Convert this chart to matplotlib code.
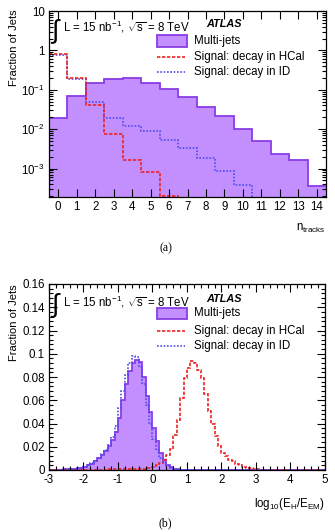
#!/usr/bin/env python3
"""Two-panel ATLAS-style plot: n_tracks (log y) and log10(E_H/E_EM) distributions."""
import numpy as np
import matplotlib
matplotlib.use("Agg")
import matplotlib.pyplot as plt  # noqa: E402
from matplotlib.patches import Rectangle  # noqa: E402
from matplotlib.ticker import AutoMinorLocator, FixedLocator, FixedFormatter, LogLocator, NullFormatter  # noqa: E402

plt.rcParams["font.family"] = ["Liberation Sans", "DejaVu Sans"]
plt.rcParams["mathtext.fontset"] = "custom"
plt.rcParams["mathtext.rm"] = "Liberation Sans"
plt.rcParams["mathtext.it"] = "Liberation Sans:italic"

FILL = "#c38fff"
EDGE = "#8a3de6"
RED = "#ee2222"
BLUE = "#4d4df0"

# ---- panel (a): number of tracks, one bin per integer 0..14
ntracks = [0, 1, 2, 3, 4, 5, 6, 7, 8, 9, 10, 11, 12, 13, 14]
multijets_tracks = [0.019, 0.069, 0.15, 0.183, 0.197, 0.15, 0.105, 0.066,
                    0.036, 0.021, 0.0101, 0.0049, 0.0024, 0.00168, 0.00037]
hcal_tracks = [0.82, 0.194, 0.041, 0.0076, 0.0017, 0.00081, 0.0002, 0,
               0, 0, 0, 0, 0, 0, 0]
id_tracks = [0.78, 0.19, 0.049, 0.019, 0.0119, 0.0089, 0.0054, 0.0033,
             0.0019, 0.00085, 0.00039, 0, 0, 0, 0]
ytick_vals_a = [1e-3, 1e-2, 1e-1, 1, 10]
ytick_labels_a = ["10$^{-3}$", "10$^{-2}$", "10$^{-1}$", "1", "10"]

# ---- panel (b): log10(E_H/E_EM), 80 bins of 0.1 from -3 to 5
ratio_range = (-3.0, 5.0)
multijets_ratio = [
    0.0003, 0.0003, 0.0004, 0.0004, 0.0005, 0.0006, 0.0008, 0.0010, 0.0014, 0.0020,
    0.0028, 0.0040, 0.0055, 0.0075, 0.0100, 0.0130, 0.0165, 0.0205, 0.0255, 0.0330,
    0.0450, 0.0600, 0.0740, 0.0850, 0.0920, 0.0950, 0.0930, 0.0800, 0.0640, 0.0500,
    0.0360, 0.0250, 0.0150, 0.0085, 0.0045, 0.0022, 0.0012, 0.0006, 0.0003, 0.0002,
    0.0001, 0.0001, 0.0001, 0.0001, 0.0001, 0.0, 0.0, 0.0, 0.0, 0.0,
    0.0, 0.0, 0.0, 0.0, 0.0, 0.0, 0.0, 0.0, 0.0, 0.0,
    0.0, 0.0, 0.0, 0.0, 0.0, 0.0, 0.0, 0.0, 0.0, 0.0,
    0.0, 0.0, 0.0, 0.0, 0.0, 0.0, 0.0, 0.0, 0.0, 0.0,
]
id_ratio = [
    0.0003, 0.0003, 0.0004, 0.0004, 0.0005, 0.0006, 0.0008, 0.0011, 0.0015, 0.0021,
    0.0030, 0.0042, 0.0058, 0.0080, 0.0105, 0.0135, 0.0170, 0.0215, 0.0280, 0.0380,
    0.0530, 0.0680, 0.0820, 0.0920, 0.0980, 0.0970, 0.0890, 0.0740, 0.0560, 0.0400,
    0.0270, 0.0170, 0.0105, 0.0062, 0.0035, 0.0018, 0.0009, 0.0004, 0.0002, 0.0001,
    0.0, 0.0, 0.0, 0.0, 0.0, 0.0, 0.0, 0.0, 0.0, 0.0,
    0.0, 0.0, 0.0, 0.0, 0.0, 0.0, 0.0, 0.0, 0.0, 0.0,
    0.0, 0.0, 0.0, 0.0, 0.0, 0.0, 0.0, 0.0, 0.0, 0.0,
    0.0, 0.0, 0.0, 0.0, 0.0, 0.0, 0.0, 0.0, 0.0, 0.0,
]
hcal_ratio = [
    0.0001, 0.0001, 0.0001, 0.0001, 0.0001, 0.0001, 0.0001, 0.0002, 0.0002, 0.0002,
    0.0002, 0.0003, 0.0003, 0.0003, 0.0004, 0.0004, 0.0004, 0.0005, 0.0005, 0.0005,
    0.0006, 0.0006, 0.0007, 0.0007, 0.0007, 0.0008, 0.0010, 0.0012, 0.0015, 0.0020,
    0.0028, 0.0040, 0.0060, 0.0085, 0.0125, 0.0180, 0.0300, 0.0430, 0.0620, 0.0790,
    0.0880, 0.0940, 0.0920, 0.0860, 0.0790, 0.0650, 0.0510, 0.0400, 0.0290, 0.0210,
    0.0150, 0.0120, 0.0090, 0.0075, 0.0055, 0.0042, 0.0030, 0.0020, 0.0013, 0.0008,
    0.0005, 0.0003, 0.0002, 0.0002, 0.0001, 0.0001, 0.0001, 0.0001, 0.0001, 0.0001,
    0.0001, 0.0001, 0.0001, 0.0001, 0.0001, 0.0001, 0.0001, 0.0001, 0.0001, 0.0001,
]

W, H = 335, 532
fig = plt.figure(figsize=(W / 100, H / 100), dpi=100)


def px_axes(left, top, right, bottom):
    return fig.add_axes([left / W, 1 - bottom / H, (right - left) / W, (bottom - top) / H])


def style_ticks(ax):
    ax.tick_params(which="both", direction="in", top=True, right=True, labelsize=8.3,
                   width=0.8, colors="black", pad=3)
    ax.tick_params(which="major", length=6)
    ax.tick_params(which="minor", length=3)
    for s in ax.spines.values():
        s.set_linewidth(0.9)


def decorate(ax, box, rows_y, atlas_y, int_y):
    # box = (left, top, right, bottom) in figure pixels of this axes
    l, t, r, b = box
    tr = lambda px, py: ((px - l) / (r - l), (b - py) / (b - t))  # noqa: E731
    ax.text(*tr(62, int_y + 4), r"$\int$", transform=ax.transAxes, fontsize=19,
            ha="right", va="center")
    ax.text(*tr(63, int_y), "L = 15 nb$^{-1}$, $\\sqrt{\\mathrm{s}}$ = 8 TeV",
            transform=ax.transAxes, fontsize=8.3, ha="left", va="center")
    ax.text(*tr(224, atlas_y), "ATLAS", transform=ax.transAxes, fontsize=7.8,
            fontweight="bold", fontstyle="italic", ha="center", va="center")
    x0, y0 = tr(157, rows_y[0] + 5.5)
    x1, y1 = tr(187, rows_y[0] - 5.5)
    ax.add_patch(Rectangle((x0, y0), x1 - x0, y1 - y0, transform=ax.transAxes,
                           facecolor=FILL, edgecolor=EDGE, lw=1.3, clip_on=False))
    for py, color, ls in [(rows_y[1], RED, (0, (2, 1))), (rows_y[2], BLUE, (0, (1, 1)))]:
        xa, ya = tr(157, py)
        xb, _ = tr(185, py)
        ax.plot([xa, xb], [ya, ya], transform=ax.transAxes, color=color, ls=ls, lw=1.2,
                clip_on=False)
    for py, label in zip(rows_y, ["Multi-jets", "Signal: decay in HCal", "Signal: decay in ID"]):
        ax.text(*tr(194, py), label, transform=ax.transAxes, fontsize=8.3,
                ha="left", va="center")


# ---------------- panel (a)
box_a = (49, 11, 326, 197)
ax1 = px_axes(*box_a)
edges_a = np.append(np.array(ntracks) - 0.5, ntracks[-1] + 0.5)
ax1.set_yscale("log")
ax1.stairs(multijets_tracks, edges_a, fill=True, baseline=1e-7, facecolor=FILL,
           edgecolor="none")
ax1.stairs(multijets_tracks, edges_a, baseline=None, color=EDGE, lw=1.3)
ax1.stairs(id_tracks, edges_a, baseline=None, color=BLUE, lw=1.2, ls=(0, (1, 1)))
ax1.stairs(hcal_tracks, edges_a, baseline=None, color=RED, lw=1.2, ls=(0, (2, 1)))
ax1.set_xlim(edges_a[0], edges_a[-1])
ax1.set_ylim(1.9e-4, 10)
ax1.xaxis.set_major_locator(FixedLocator(ntracks))
ax1.set_xticklabels([str(n) for n in ntracks])
ax1.yaxis.set_major_locator(FixedLocator(ytick_vals_a))
ax1.yaxis.set_major_formatter(FixedFormatter(ytick_labels_a))
ax1.yaxis.set_minor_locator(LogLocator(base=10, subs=np.arange(2, 10), numticks=20))
ax1.yaxis.set_minor_formatter(NullFormatter())
style_ticks(ax1)
ax1.set_ylabel("Fraction of Jets", fontsize=8, ha="right")
ax1.yaxis.set_label_coords(-0.11, 1.01)
ax1.set_xlabel("n$_{\\mathrm{tracks}}$", fontsize=8.3, ha="right")
ax1.xaxis.set_label_coords(1.0, -0.135)
decorate(ax1, box_a, [41, 56.7, 71.7], 24.3, 27.3)
fig.text(166 / W, 1 - 248 / H, "(a)", fontsize=8.5, family="Liberation Serif",
         ha="center", va="center")

# ---------------- panel (b)
box_b = (49, 284, 325, 470)
ax2 = px_axes(*box_b)
edges_b = np.linspace(ratio_range[0], ratio_range[1], len(multijets_ratio) + 1)
ax2.stairs(multijets_ratio, edges_b, fill=True, baseline=0, facecolor=FILL,
           edgecolor="none")
ax2.stairs(multijets_ratio, edges_b, baseline=None, color=EDGE, lw=1.3)
ax2.stairs(hcal_ratio, edges_b, baseline=None, color=RED, lw=1.2, ls=(0, (2, 1)))
ax2.stairs(id_ratio, edges_b, baseline=None, color=BLUE, lw=1.2, ls=(0, (1, 1)))
ax2.set_xlim(*ratio_range)
ax2.set_ylim(0, 0.16)
ax2.set_xticks(np.arange(-3, 6, 1))
ax2.set_xticklabels(["-3", "-2", "-1", "0", "1", "2", "3", "4", "5"])
ax2.set_yticks([0, 0.02, 0.04, 0.06, 0.08, 0.1, 0.12, 0.14, 0.16])
ax2.set_yticklabels(["0", "0.02", "0.04", "0.06", "0.08", "0.1", "0.12", "0.14", "0.16"])
ax2.xaxis.set_minor_locator(AutoMinorLocator(5))
ax2.yaxis.set_minor_locator(AutoMinorLocator(5))
style_ticks(ax2)
ax2.set_ylabel("Fraction of Jets", fontsize=8, ha="right")
ax2.yaxis.set_label_coords(-0.11, 1.0)
ax2.set_xlabel("log$_{\\mathrm{10}}$(E$_{\\mathrm{H}}$/E$_{\\mathrm{EM}}$)", fontsize=8.3,
               ha="right")
ax2.xaxis.set_label_coords(1.0, -0.14)
decorate(ax2, box_b, [313.3, 331, 346], 299.3, 301.7)
fig.text(165 / W, 1 - 523 / H, "(b)", fontsize=8.5, family="Liberation Serif",
         ha="center", va="center")

fig.savefig("out.png", dpi=100)
